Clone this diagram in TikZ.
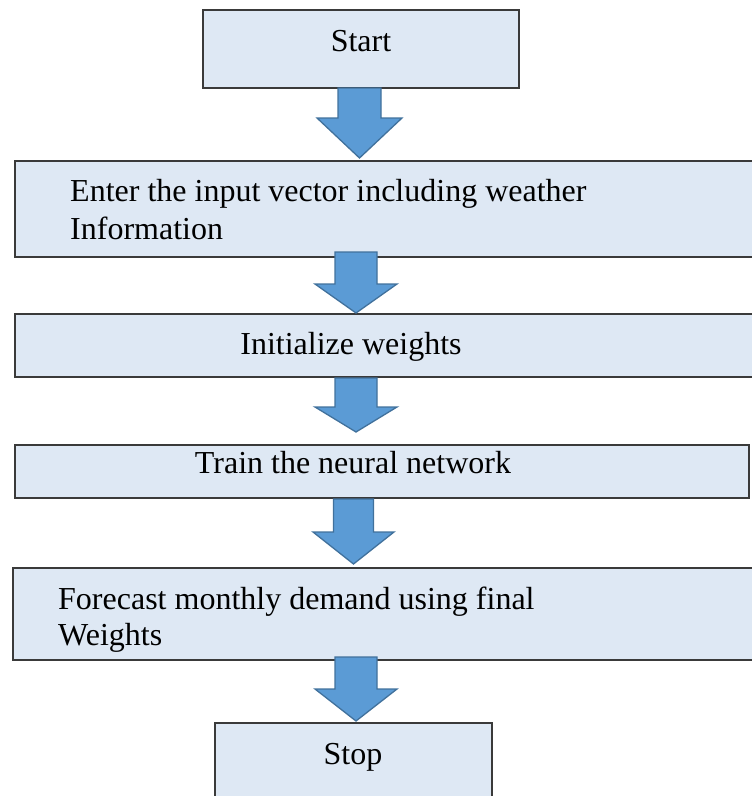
\documentclass[tikz,border=0pt]{standalone}
\usepackage{fontspec}
\setmainfont{Liberation Serif}
\definecolor{boxfill}{HTML}{DEE8F4}
\definecolor{boxline}{HTML}{3A3A3A}
\definecolor{arrowfill}{HTML}{5B9BD5}
\definecolor{arrowline}{HTML}{41719C}
% block arrow pointing down: centre x, shaft top, head base, tip, half shaft width, half head width
\newcommand{\downblock}[6]{%
  \filldraw[blockarrow] (#1-#5,#2) -- (#1+#5,#2) -- (#1+#5,#3) -- (#1+#6,#3)
    -- (#1,#4) -- (#1-#6,#3) -- (#1-#5,#3) -- cycle;}
\begin{document}
\begin{tikzpicture}[x=1pt,y=-1pt,
  flowbox/.style={draw=boxline, fill=boxfill, line width=1.3pt},
  lefttext/.style={inner sep=0pt, anchor=base west, font=\fontsize{32}{38}\selectfont},
  midtext/.style={inner sep=0pt, anchor=base, font=\fontsize{32}{38}\selectfont},
  blockarrow/.style={fill=arrowfill, draw=arrowline, line width=1.3pt, line join=miter}]
\useasboundingbox (0,0) rectangle (752,796);
\clip (0,0) rectangle (752,796);

% process boxes
\draw[flowbox] (203,10) rectangle (519,88);
\draw[flowbox] (15,161) rectangle (770,257);
\draw[flowbox] (15,314) rectangle (770,377);
\draw[flowbox] (15,445) rectangle (749,498);
\draw[flowbox] (13,568) rectangle (770,660);
\draw[flowbox] (215,723) rectangle (492,810);

% box texts
\node[midtext] (start) at (361,51) {Start};
\node[lefttext] (enter1) at (70,201) {Enter the input vector including weather};
\node[lefttext] (enter2) at (70,239) {Information};
\node[midtext] (init) at (351,354) {Initialize weights};
\node[midtext] (train) at (353,473) {Train the neural network};
\node[lefttext] (fore1) at (58,609) {Forecast monthly demand using final};
\node[lefttext] (fore2) at (58,645) {Weights};
\node[midtext] (stop) at (353,764) {Stop};

% connecting block arrows
\downblock{359.5}{88}{118}{158}{21.5}{42.5}
\downblock{356}{252}{284}{313}{21}{41}
\downblock{356}{378}{407}{432}{21}{41}
\downblock{353.5}{499}{532}{564}{20}{40.5}
\downblock{356}{657}{689}{721}{21}{41}
\end{tikzpicture}
\end{document}
